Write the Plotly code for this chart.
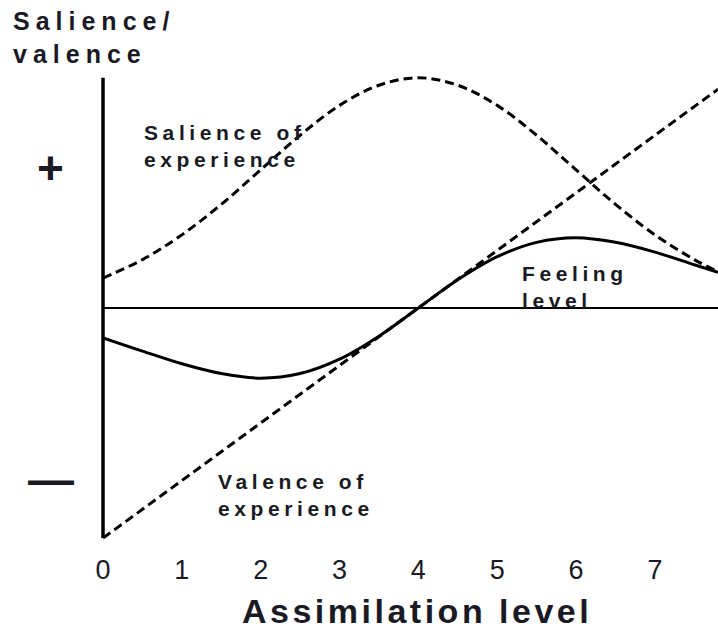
import plotly.graph_objects as go

# Assimilation level (x) values
x_vals = [0, 0.5, 1, 1.5, 2, 2.5, 3, 3.5, 4, 4.5, 5, 5.5, 6, 6.5, 7, 7.5, 7.8]
# Salience of experience (bell-shaped, peak at 4)
salience = [0.52, 0.84, 1.27, 1.80, 2.40, 3.00, 3.52, 3.87, 4.00, 3.87, 3.52, 3.00, 2.40, 1.80, 1.27, 0.84, 0.63]
# Feeling level
feeling = [-0.52, -0.75, -0.97, -1.14, -1.22, -1.14, -0.89, -0.49, 0.0, 0.49, 0.89, 1.14, 1.22, 1.14, 0.97, 0.75, 0.62]
# Valence of experience (straight line)
valence_x = [0, 7.8]
valence = [-4.0, 3.8]

tick_vals = [0, 1, 2, 3, 4, 5, 6, 7]
tick_text = ["0", "1", "2", "3", "4", "5", "6", "7"]

FONT = "Liberation Sans, Arial, sans-serif"
TXT = "#1a1a24"

L, T, W, H = 103, 72, 615, 469

def px(x):
    return (x - L) / W

def py(y):
    return (T + H - y) / H

fig = go.Figure()
fig.add_trace(go.Scatter(x=x_vals, y=salience, mode="lines", line=dict(color="black", width=3, dash="9px,5px"), line_shape="spline", hoverinfo="skip"))
fig.add_trace(go.Scatter(x=valence_x, y=valence, mode="lines", line=dict(color="black", width=3, dash="9px,5px"), hoverinfo="skip"))
fig.add_trace(go.Scatter(x=x_vals, y=feeling, mode="lines", line=dict(color="black", width=3), line_shape="spline", hoverinfo="skip"))

# vertical axis line spanning the data extent (left edge of plot area)
fig.add_shape(type="line", xref="paper", yref="y", x0=0, x1=0, y0=min(valence), y1=max(salience),
              line=dict(color="black", width=3.5))

def ann(xp, yp, text, size, spacing, xanchor="left"):
    fig.add_annotation(x=px(xp), y=py(yp), xref="paper", yref="paper",
                       text='<span style="letter-spacing:%gpx"><b>%s</b></span>' % (spacing, text),
                       showarrow=False, xanchor=xanchor, yanchor="middle", align="left",
                       font=dict(family=FONT, size=size, color=TXT))

ann(11, 37, "Salience/<br>valence", 25, 6)
ann(142, 146, "Salience of<br>experience", 21, 4.6)
ann(520, 287, "Feeling<br>level", 21, 4.6)
ann(216, 495, "Valence of<br>experience", 21, 4.6)
ann(50, 168, "+", 46, 0, xanchor="center")
ann(51, 479, "\u2014", 46, 0, xanchor="center")
ann(417, 611, "Assimilation level", 34, 3.5, xanchor="center")

fig.update_layout(
    width=718, height=632,
    margin=dict(l=L, r=0, t=T, b=632 - T - H),
    paper_bgcolor="white", plot_bgcolor="white",
    showlegend=False,
    xaxis=dict(range=[0, 7.8], showgrid=False, zeroline=False, showline=False,
               tickmode="array", tickvals=tick_vals, ticktext=tick_text, ticks="",
               ticklabelstandoff=10, automargin=False,
               tickfont=dict(family=FONT, size=27, color=TXT)),
    yaxis=dict(range=[-4.05, 4.1], showgrid=False, showticklabels=False, ticks="",
               zeroline=True, zerolinecolor="black", zerolinewidth=1.5,
               showline=False, automargin=False),
)

fig.write_html("out.html", config={"displayModeBar": False},
               post_script="document.body.style.margin='0';")
